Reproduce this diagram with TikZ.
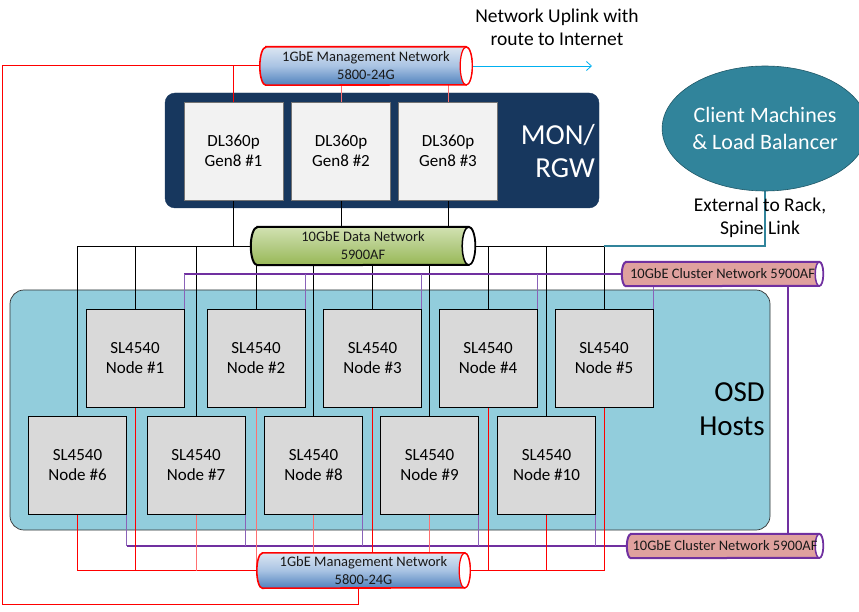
\documentclass[tikz,border=0pt]{standalone}
\usepackage{fontspec}
\setmainfont{Carlito}
\usetikzlibrary{arrows.meta,shapes.geometric}
\pgfdeclarelayer{bg}\pgfdeclarelayer{lines}\pgfdeclarelayer{cyl}
\pgfsetlayers{bg,lines,cyl,main}
\definecolor{navybg}{HTML}{17375E}
\definecolor{osdbg}{HTML}{92CDDC}
\definecolor{dlfill}{HTML}{F2F2F2}
\definecolor{slfill}{HTML}{D9D9D9}
\definecolor{tealA}{HTML}{31849B}
\definecolor{tealdk}{HTML}{215968}
\definecolor{purp}{HTML}{7030A0}
\definecolor{purplt}{HTML}{8A62B8}
\definecolor{pinkfill}{HTML}{DFA19E}
\definecolor{mgtop}{HTML}{DCE6F2}
\definecolor{mgmid}{HTML}{A9C3E3}
\definecolor{mgbot}{HTML}{4F81BD}
\definecolor{grtop}{HTML}{D2E2B2}
\definecolor{grmid}{HTML}{B4CC86}
\definecolor{grbot}{HTML}{98B855}
\definecolor{redlt}{HTML}{FF7070}
\definecolor{uplinkc}{HTML}{00B0F0}
% cylinder drawn around a named rectangular node: #1 name, #2 end x-radius, #3 half height, #4 body style, #5 end style
\newcommand{\cylshape}[5]{%
  \path[#4] ([xshift=#2]#1.north west) -- ([xshift=-#2]#1.north east)
    arc[start angle=90,end angle=-90,x radius=#2,y radius=#3]
    -- ([xshift=#2]#1.south west)
    arc[start angle=270,end angle=90,x radius=#2,y radius=#3] -- cycle;
  \path[#5] ([xshift=-#2]#1.east) ellipse[x radius=#2,y radius=#3];
}
\begin{document}
\begin{tikzpicture}[x=1pt,y=-1pt,
  every node/.style={inner sep=0pt},
  monbox/.style={fill=navybg, draw=navybg, rounded corners=10pt, minimum width=434pt, minimum height=115pt},
  osdbox/.style={fill=osdbg, draw=black!80, line width=0.7pt, rounded corners=14pt, minimum width=760pt, minimum height=240pt},
  dlbox/.style={fill=dlfill, draw=black!55, line width=0.6pt, minimum width=99pt, minimum height=98pt, align=center, font=\fontsize{17}{20.5}\selectfont},
  slbox/.style={fill=slfill, draw=black, line width=0.7pt, minimum width=98pt, minimum height=98pt, align=center, font=\fontsize{17}{20.5}\selectfont},
  bigwhite/.style={text=white, align=right, anchor=east, font=\fontsize{29}{33}\selectfont},
  bigblack/.style={text=black, align=right, anchor=east, font=\fontsize{29}{34}\selectfont},
  lbl/.style={align=center, font=\fontsize{19.5}{23.5}\selectfont},
  cyltext/.style={align=center, text=black!90, font=\fontsize{14.5}{18}\selectfont},
  clientnode/.style={ellipse, fill=tealA, draw=tealdk, line width=0.6pt, minimum width=186pt, minimum height=125pt, text=white, align=center, font=\fontsize{22}{27}\selectfont},
  blk/.style={draw=black, line width=0.9pt},
  redln/.style={draw=red, line width=1pt},
  redfaint/.style={draw=redlt, line width=0.8pt},
  purpln/.style={draw=purp, line width=1.3pt},
  purpv/.style={draw=purplt, line width=1pt},
  tealln/.style={draw=tealA, line width=1.3pt},
  uplink/.style={draw=uplinkc, line width=0.8pt, -{Straight Barb[length=5pt,width=9pt]}},
  mgbody/.style={draw=red, line width=1.6pt, top color=mgtop, bottom color=mgbot, middle color=mgmid},
  mgend/.style={draw=red, line width=1.2pt, fill=white},
  grbody/.style={draw=black, line width=2pt, top color=grtop, bottom color=grbot, middle color=grmid},
  grend/.style={draw=black, line width=1.5pt, fill=white},
  clbody/.style={draw=purp, line width=2pt, fill=pinkfill},
  clend/.style={draw=purp, line width=1.5pt, fill=white}
]
\useasboundingbox (0,0) rectangle (859,612);

\begin{pgfonlayer}{bg}
  \node[monbox] (mon) at (382,150.5) {};
  \node[osdbox] (osd) at (390,410) {};
\end{pgfonlayer}

% MON/RGW hosts
\node[dlbox] (dl1) at (233.5,151) {DL360p\\Gen8 \#1};
\node[dlbox] (dl2) at (341,151) {DL360p\\Gen8 \#2};
\node[dlbox] (dl3) at (448,151) {DL360p\\Gen8 \#3};
\node[bigwhite] (monlbl) at (595,151.5) {MON/\\RGW};

% OSD hosts
\node[slbox] (n1) at (135,358) {SL4540\\Node \#1};
\node[slbox] (n2) at (256,358) {SL4540\\Node \#2};
\node[slbox] (n3) at (372.5,358) {SL4540\\Node \#3};
\node[slbox] (n4) at (488,358) {SL4540\\Node \#4};
\node[slbox] (n5) at (604,358) {SL4540\\Node \#5};
\node[slbox] (n6) at (77.5,465) {SL4540\\Node \#6};
\node[slbox] (n7) at (196,465) {SL4540\\Node \#7};
\node[slbox] (n8) at (313.5,465) {SL4540\\Node \#8};
\node[slbox] (n9) at (429.5,465) {SL4540\\Node \#9};
\node[slbox] (n10) at (546.5,465) {SL4540\\Node \#10};
\node[bigblack] (osdlbl) at (765,409) {OSD\\Hosts};

% networks
\node[cyltext, minimum width=212pt, minimum height=38pt] (mgT) at (366,66) {1GbE Management Network\\5800-24G};
\node[cyltext, minimum width=224pt, minimum height=38pt] (dnet) at (363,246) {10GbE Data Network\\5900AF};
\node[cyltext, minimum width=201pt, minimum height=24pt] (clT) at (722.5,274) {10GbE Cluster Network 5900AF};
\node[cyltext, minimum width=196pt, minimum height=24pt] (clB) at (725,546) {10GbE Cluster Network 5900AF};
\node[cyltext, minimum width=213pt, minimum height=35pt] (mgB) at (363.5,570.5) {1GbE Management Network\\5800-24G};

\begin{pgfonlayer}{cyl}
  \cylshape{mgT}{6pt}{19pt}{mgbody}{mgend}
  \cylshape{dnet}{6.5pt}{19pt}{grbody}{grend}
  \cylshape{clT}{4pt}{12pt}{clbody}{clend}
  \cylshape{clB}{4pt}{12pt}{clbody}{clend}
  \cylshape{mgB}{5.5pt}{17.5pt}{mgbody}{mgend}
\end{pgfonlayer}

% client side
\node[clientnode] (client) at (765,128.5) {Client Machines\\\& Load Balancer};
\node[lbl] (uplbl) at (557,27.5) {Network Uplink with\\route to Internet};
\node[lbl] (extlbl) at (760,218) {External to Rack,\\Spine Link};

\coordinate (loopA) at (2,66);
\coordinate (loopB) at (2,604);
\coordinate (loopC) at (358,604);
\coordinate (upEnd) at (592,66);
\coordinate (clLink) at (788,0);

\begin{pgfonlayer}{lines}
  % management network (top)
  \draw[redln] (mgT.west) -- (loopA) -- (loopB) -- (loopC) -- (loopC |- mgB.south);
  \draw[redln] (dl1.north) -- (dl1.north |- mgT.west);
  \draw[redfaint] (dl2.north) -- (dl2.north |- mgT.south);
  \draw[redfaint] (dl3.north) -- (dl3.north |- mgT.south);
  \draw[uplink] (mgT.east) -- (upEnd);
  % data network
  \draw[blk] (n6.north |- dnet.west) -- (dnet.west);
  \draw[blk] (dnet.east) -- (n5.north |- dnet.east);
  \draw[blk] (dl1.south) -- (dl1.south |- dnet.west);
  \draw[blk] (dl2.south) -- (dl2.south |- dnet.north);
  \draw[blk] (dl3.south) -- (dl3.south |- dnet.north);
  \foreach \n in {n6,n1,n7} \draw[blk] (\n.north) -- (\n.north |- dnet.west);
  \foreach \n in {n2,n8,n3,n9} \draw[blk] (\n.north) -- (\n.north |- dnet.south);
  \foreach \n in {n4,n10,n5} \draw[blk] (\n.north) -- (\n.north |- dnet.east);
  \draw[tealln] (n5.north |- dnet.east) -- (client.south |- dnet.east) -- (client.south);
  % cluster network
  \draw[purpln] (n1.north east |- clT.west) -- (clT.west);
  \foreach \n in {n1,n2,n3,n4} \draw[purpv] (\n.north east) -- (\n.north east |- clT.west);
  \draw[purpv] (n5.north east) -- (n5.north east |- clT.south);
  \draw[purpln] (clLink |- clT.south) -- (clLink |- clB.north);
  \draw[purpln] (n6.south east |- clB.west) -- (clB.west);
  \foreach \n in {n6,n7,n8,n9,n10} \draw[purpv] (\n.south east) -- (\n.south east |- clB.west);
  % management network (bottom)
  \draw[redln] (n6.south |- mgB.west) -- (mgB.west);
  \draw[redln] (mgB.east) -- (n5.south |- mgB.east);
  \draw[redln] (n6.south) -- (n6.south |- mgB.west);
  \draw[redln] (n1.south) -- (n1.south |- mgB.west);
  \draw[redfaint] (n7.south) -- (n7.south |- mgB.west);
  \draw[redfaint] (n2.south) -- (n2.south |- mgB.west);
  \draw[redfaint] (n8.south) -- (n8.south |- mgB.north);
  \draw[redln] (n3.south) -- (n3.south |- mgB.north);
  \draw[redfaint] (n9.south) -- (n9.south |- mgB.north);
  \foreach \n in {n4,n10,n5} \draw[redln] (\n.south) -- (\n.south |- mgB.east);
\end{pgfonlayer}
\end{tikzpicture}
\end{document}
